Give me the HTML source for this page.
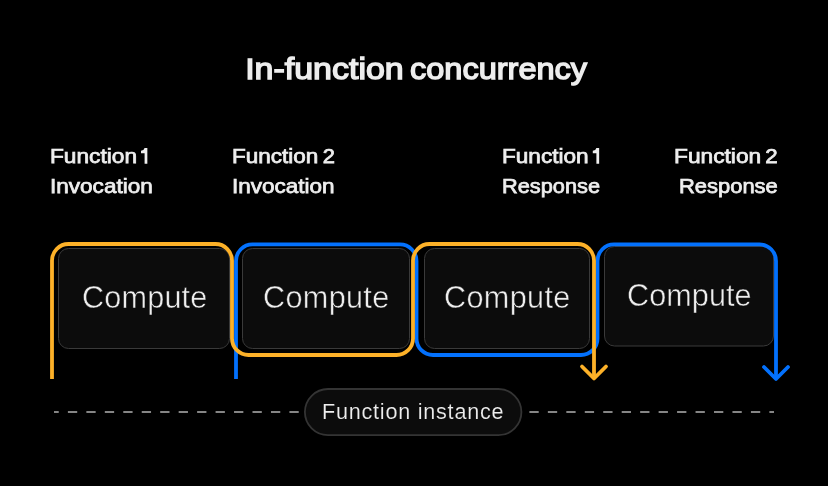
<!DOCTYPE html>
<html><head><meta charset="utf-8"><style>
html,body{margin:0;padding:0;background:#000;width:828px;height:486px;overflow:hidden}
svg{display:block;will-change:transform}
text{font-family:"Liberation Sans",sans-serif;fill:#eeeeee}
.t{font-size:30.4px;stroke:#eeeeee;stroke-width:1.4px}
.l{font-size:20.8px;stroke:#eeeeee;stroke-width:0.75px}
.c{font-size:30.6px;stroke:#0c0c0c;stroke-width:0.5px}
.p{font-size:21.6px;stroke:#0c0c0c;stroke-width:0.15px}
</style></head><body>
<svg width="828" height="486" viewBox="0 0 828 486">
<rect width="828" height="486" fill="#000"/>
<text x="245.20" y="79.0" class="t" textLength="158.50" lengthAdjust="spacingAndGlyphs">In-function</text>
<text x="410.00" y="79.0" class="t" textLength="177.10" lengthAdjust="spacingAndGlyphs">concurrency</text>
<text x="50.00" y="163.2" class="l" textLength="87.00" lengthAdjust="spacingAndGlyphs">Function</text>
<text x="50.00" y="193.2" class="l" textLength="102.80" lengthAdjust="spacingAndGlyphs">Invocation</text>
<text x="232.00" y="163.2" class="l" textLength="86.30" lengthAdjust="spacingAndGlyphs">Function</text>
<text x="322.80" y="163.2" class="l" textLength="12.20" lengthAdjust="spacingAndGlyphs">2</text>
<text x="232.00" y="193.2" class="l" textLength="102.60" lengthAdjust="spacingAndGlyphs">Invocation</text>
<text x="502.00" y="163.2" class="l" textLength="86.60" lengthAdjust="spacingAndGlyphs">Function</text>
<text x="502.00" y="193.2" class="l" textLength="98.00" lengthAdjust="spacingAndGlyphs">Response</text>
<text x="674.00" y="163.2" class="l" textLength="87.20" lengthAdjust="spacingAndGlyphs">Function</text>
<text x="765.20" y="163.2" class="l" textLength="12.40" lengthAdjust="spacingAndGlyphs">2</text>
<text x="679.00" y="193.2" class="l" textLength="98.80" lengthAdjust="spacingAndGlyphs">Response</text>
<path d="M144.60 148.1 H147.35 V163.8 H144.60 V153.2 H141.00 V150.8 Q144.00 150.6 144.60 148.1 Z" fill="#eeeeee"/>
<path d="M596.40 148.1 H599.15 V163.8 H596.40 V153.2 H592.80 V150.8 Q595.80 150.6 596.40 148.1 Z" fill="#eeeeee"/>
<rect x="58.5" y="248.5" width="171" height="100" rx="10" fill="#0c0c0c" stroke="#3a3a3a" stroke-width="1"/>
<rect x="242.5" y="248.5" width="167" height="100" rx="10" fill="#0c0c0c" stroke="#3a3a3a" stroke-width="1"/>
<rect x="424.5" y="248.5" width="165" height="100" rx="10" fill="#0c0c0c" stroke="#3a3a3a" stroke-width="1"/>
<rect x="604.5" y="246.5" width="169" height="99.5" rx="10" fill="#0c0c0c" stroke="#3a3a3a" stroke-width="1"/>
<text x="82.00" y="308.3" class="c" textLength="125.30" lengthAdjust="spacing">Compute</text>
<text x="263.00" y="308.3" class="c" textLength="126.20" lengthAdjust="spacing">Compute</text>
<text x="444.00" y="308.3" class="c" textLength="126.30" lengthAdjust="spacing">Compute</text>
<text x="627.00" y="305.5" class="c" textLength="124.60" lengthAdjust="spacing">Compute</text>
<g fill="none" stroke="#0371FD" stroke-width="3.8" stroke-linecap="round" stroke-linejoin="round">
<path d="M236 379 V260.9 A16.5 16.5 0 0 1 252.5 244.4 H400.0 A16.5 16.5 0 0 1 416.5 260.9 V338.5 A16.5 16.5 0 0 0 433.0 355 H581.0 A16.5 16.5 0 0 0 597.5 338.5 V260.9 A16.5 16.5 0 0 1 614.0 244.4 H759.5 A16.5 16.5 0 0 1 776 260.9 V379" stroke-linecap="butt"/><path d="M764 367 L776 379 L788 367"/>
</g>
<g fill="none" stroke="#FDB128" stroke-width="3.8" stroke-linecap="round" stroke-linejoin="round">
<path d="M52 379 V260.5 A16.5 16.5 0 0 1 68.5 244 H215.5 A16.5 16.5 0 0 1 232 260.5 V338.5 A16.5 16.5 0 0 0 248.5 355 H396.5 A16.5 16.5 0 0 0 413 338.5 V260.5 A16.5 16.5 0 0 1 429.5 244 H577.5 A16.5 16.5 0 0 1 594 260.5 V378.5" stroke-linecap="butt"/><path d="M582 366.5 L594 378.5 L606 366.5"/>
</g>
<rect x="54.00" y="411" width="4.74" height="2" fill="#858585"/>
<rect x="67.90" y="411" width="9.30" height="2" fill="#858585"/>
<rect x="86.36" y="411" width="9.30" height="2" fill="#858585"/>
<rect x="104.82" y="411" width="9.30" height="2" fill="#858585"/>
<rect x="123.28" y="411" width="9.30" height="2" fill="#858585"/>
<rect x="141.74" y="411" width="9.30" height="2" fill="#858585"/>
<rect x="160.20" y="411" width="9.30" height="2" fill="#858585"/>
<rect x="178.66" y="411" width="9.30" height="2" fill="#858585"/>
<rect x="197.12" y="411" width="9.30" height="2" fill="#858585"/>
<rect x="215.58" y="411" width="9.30" height="2" fill="#858585"/>
<rect x="234.04" y="411" width="9.30" height="2" fill="#858585"/>
<rect x="252.50" y="411" width="9.30" height="2" fill="#858585"/>
<rect x="270.96" y="411" width="9.30" height="2" fill="#858585"/>
<rect x="289.42" y="411" width="9.30" height="2" fill="#858585"/>
<rect x="307.88" y="411" width="9.30" height="2" fill="#858585"/>
<rect x="326.34" y="411" width="9.30" height="2" fill="#858585"/>
<rect x="344.80" y="411" width="9.30" height="2" fill="#858585"/>
<rect x="363.26" y="411" width="9.30" height="2" fill="#858585"/>
<rect x="381.72" y="411" width="9.30" height="2" fill="#858585"/>
<rect x="400.18" y="411" width="9.30" height="2" fill="#858585"/>
<rect x="418.64" y="411" width="9.30" height="2" fill="#858585"/>
<rect x="437.10" y="411" width="9.30" height="2" fill="#858585"/>
<rect x="455.56" y="411" width="9.30" height="2" fill="#858585"/>
<rect x="474.02" y="411" width="9.30" height="2" fill="#858585"/>
<rect x="492.48" y="411" width="9.30" height="2" fill="#858585"/>
<rect x="510.94" y="411" width="9.30" height="2" fill="#858585"/>
<rect x="529.40" y="411" width="9.30" height="2" fill="#858585"/>
<rect x="547.86" y="411" width="9.30" height="2" fill="#858585"/>
<rect x="566.32" y="411" width="9.30" height="2" fill="#858585"/>
<rect x="584.78" y="411" width="9.30" height="2" fill="#858585"/>
<rect x="603.24" y="411" width="9.30" height="2" fill="#858585"/>
<rect x="621.70" y="411" width="9.30" height="2" fill="#858585"/>
<rect x="640.16" y="411" width="9.30" height="2" fill="#858585"/>
<rect x="658.62" y="411" width="9.30" height="2" fill="#858585"/>
<rect x="677.08" y="411" width="9.30" height="2" fill="#858585"/>
<rect x="695.54" y="411" width="9.30" height="2" fill="#858585"/>
<rect x="714.00" y="411" width="9.30" height="2" fill="#858585"/>
<rect x="732.46" y="411" width="9.30" height="2" fill="#858585"/>
<rect x="750.92" y="411" width="9.30" height="2" fill="#858585"/>
<rect x="769.38" y="411" width="4.62" height="2" fill="#858585"/>
<rect x="304.9" y="389" width="216.5" height="46.2" rx="23.1" fill="#0c0c0c" stroke="#343434" stroke-width="1.8"/>
<text x="322.00" y="418.9" class="p" textLength="181.50" lengthAdjust="spacing">Function instance</text>
</svg>
</body></html>
